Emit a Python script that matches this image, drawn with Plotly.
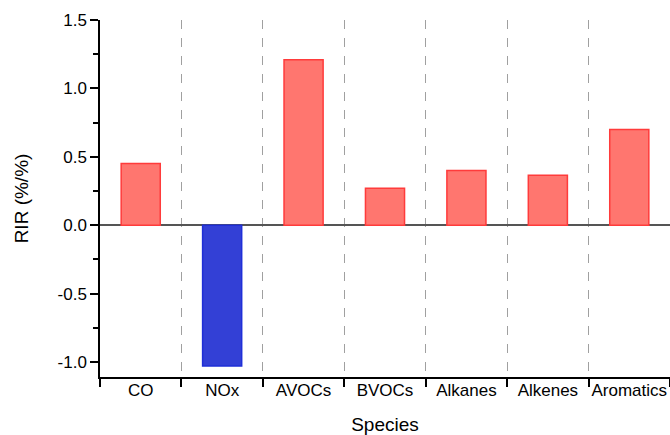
import plotly.graph_objects as go

species = ["CO", "NOx", "AVOCs", "BVOCs", "Alkanes", "Alkenes", "Aromatics"]
rir = [0.45, -1.03, 1.21, 0.27, 0.40, 0.365, 0.70]

fill = ["#FF766F" if v >= 0 else "#3340D6" for v in rir]
edge = ["#FF3B3B" if v >= 0 else "#1F2FD8" for v in rir]

fig = go.Figure(go.Bar(
    x=species, y=rir, width=0.48,
    marker=dict(color=fill, line=dict(color=edge, width=1.5)),
))

font = "Liberation Sans, Arial, sans-serif"
fig.update_layout(
    width=670, height=435,
    margin=dict(l=100, r=0, t=20, b=58, autoexpand=False),
    plot_bgcolor="white", paper_bgcolor="white",
    showlegend=False,
    font=dict(family=font, size=17, color="black"),
    xaxis=dict(
        range=[-0.5, 6.5],
        tickson="boundaries", ticks="outside", ticklen=8, tickwidth=1.5, tickcolor="black",
        showline=True, linecolor="black", linewidth=1.5,
        showgrid=True, gridcolor="#A0A0A0", griddash="dash", gridwidth=1,
        title=dict(text="Species", font=dict(size=19), standoff=22),
        tickfont=dict(size=17),
        tickangle=0,
        ticklabelstandoff=-3,
        automargin=False,
    ),
    yaxis=dict(
        range=[-1.11, 1.5],
        tickvals=[-1.0, -0.5, 0.0, 0.5, 1.0, 1.5],
        ticktext=["-1.0", "-0.5", "0.0", "0.5", "1.0", "1.5"],
        ticks="outside", ticklen=8, tickwidth=1.5, tickcolor="black",
        minor=dict(tickvals=[-0.75, -0.25, 0.25, 0.75, 1.25], ticks="outside", ticklen=5, tickcolor="black", tickwidth=1.5),
        showline=True, linecolor="black", linewidth=1.5,
        showgrid=False,
        zeroline=True, zerolinecolor="#555555", zerolinewidth=1.5,
        title=dict(text="RIR (%/%)", font=dict(size=19), standoff=24),
        tickfont=dict(size=17),
        automargin=False,
    ),
)

fig.write_html("out.html", config={"displayModeBar": False},
               post_script="document.body.style.margin='0';")
